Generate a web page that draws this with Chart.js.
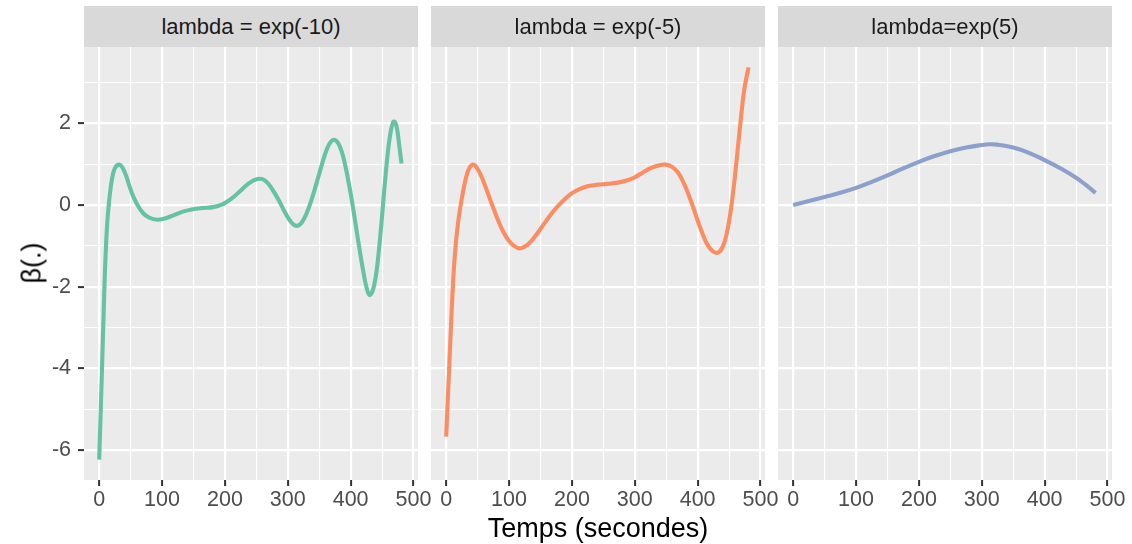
<!DOCTYPE html>
<html>
<head>
<meta charset="utf-8">
<script src="https://cdn.jsdelivr.net/npm/chart.js@4"></script>
<style>
html,body{margin:0;padding:0;background:#ffffff;}
body{width:1132px;height:544px;position:relative;overflow:hidden;font-family:"Liberation Sans",Arial,sans-serif;}
canvas{position:absolute;left:0;top:0;}
.strip{position:absolute;top:6px;height:41px;width:334px;background:#D9D9D9;color:#1A1A1A;font-size:22px;display:flex;align-items:center;justify-content:center;white-space:nowrap;}
#xtitle{position:absolute;left:84px;width:1028px;top:515px;line-height:27px;font-size:27px;color:#000;text-align:center;white-space:nowrap;}
#ytitle{position:absolute;left:32px;top:263px;font-size:27px;line-height:27px;color:#000;white-space:nowrap;transform:translate(-50%,-50%) rotate(-90deg);}
</style>
</head>
<body>
<canvas id="c0" width="1132" height="544"></canvas>
<canvas id="c1" width="1132" height="544"></canvas>
<canvas id="c2" width="1132" height="544"></canvas>
<div class="strip" id="s0"></div>
<div class="strip" id="s1"></div>
<div class="strip" id="s2"></div>
<div id="xtitle"></div>
<div id="ytitle"></div>
<script>
// ---------- data ----------
const panelTitles = ['lambda = exp(-10)', 'lambda = exp(-5)', 'lambda=exp(5)'];
const xAxisTitle = 'Temps (secondes)';
const yAxisTitle = 'β(.)';

const t1 = [0, 2, 4.5, 7, 9, 11, 13, 15.5, 18.5, 22, 26, 32, 37, 43, 48, 54, 61, 70, 80, 92, 104, 118, 133, 149, 165, 181, 196, 210, 224, 238, 252, 264, 276, 287, 297, 306, 314, 322, 330, 338, 346, 354, 361, 368, 374, 380, 386, 391, 396, 401, 405, 409, 413, 417, 421, 425, 430, 435, 440, 444, 448, 452, 456, 460, 464, 468, 471, 474, 477, 479, 481];
const beta1 = [-6.23, -5.25, -4.0, -2.7, -1.7, -0.95, -0.4, 0.05, 0.45, 0.76, 0.93, 0.99, 0.92, 0.71, 0.47, 0.22, 0.0, -0.2, -0.31, -0.36, -0.33, -0.25, -0.16, -0.1, -0.07, -0.05, 0.02, 0.15, 0.34, 0.53, 0.64, 0.6, 0.37, 0.08, -0.22, -0.43, -0.51, -0.43, -0.2, 0.14, 0.55, 0.98, 1.32, 1.54, 1.6, 1.52, 1.3, 1.0, 0.62, 0.2, -0.18, -0.58, -0.97, -1.35, -1.7, -2.0, -2.2, -2.1, -1.75, -1.25, -0.62, 0.1, 0.8, 1.4, 1.82, 2.04, 2.02, 1.85, 1.5, 1.25, 1.02];

const t2 = [0, 3, 6, 9, 12, 15, 18, 21, 24, 28, 32, 36, 40, 44, 48, 54, 60, 67, 75, 83, 91, 99, 108, 117, 126, 136, 146, 157, 168, 178, 189, 199, 212, 225, 240, 257, 273, 287, 300, 313, 326, 338, 350, 360, 369, 377, 385, 393, 401, 409, 416, 424, 431, 436, 441, 445, 449, 453, 457, 461, 465, 469, 473, 477, 481];
const beta2 = [-5.67, -4.6, -3.55, -2.5, -1.62, -1.0, -0.55, -0.2, 0.08, 0.42, 0.7, 0.88, 0.97, 0.99, 0.93, 0.77, 0.55, 0.26, -0.07, -0.39, -0.66, -0.86, -1.0, -1.06, -1.01, -0.87, -0.67, -0.43, -0.2, -0.02, 0.15, 0.28, 0.39, 0.46, 0.5, 0.52, 0.55, 0.6, 0.68, 0.8, 0.91, 0.97, 0.99, 0.93, 0.79, 0.57, 0.28, -0.06, -0.42, -0.75, -0.98, -1.13, -1.17, -1.12, -0.98, -0.78, -0.48, -0.1, 0.38, 0.95, 1.55, 2.15, 2.7, 3.08, 3.37];

const t3 = [0, 25, 50, 75, 100, 125, 150, 175, 200, 225, 250, 275, 300, 311, 325, 350, 375, 400, 425, 450, 465, 481];
const beta3 = [0, 0.1, 0.2, 0.3, 0.42, 0.57, 0.73, 0.9, 1.06, 1.2, 1.32, 1.41, 1.47, 1.49, 1.48, 1.41, 1.28, 1.1, 0.9, 0.67, 0.5, 0.3];

const xLabelTicks = [0, 100, 200, 300, 400, 500];
const xMinorTicks = [50, 150, 250, 350, 450];
const yLabelTicks = [-6, -4, -2, 0, 2];
const yMinorTicks = [-5, -3, -1, 1, 3];
const xLimits = [-24.15, 507.15];
const yLimits = [-6.73, 3.87];

// ---------- styling / layout ----------
const lineColors = ['#66C2A5', '#FC8D62', '#8DA0CB'];
const panelBox = [{left: 84, right: 418}, {left: 431, right: 765}, {left: 778, right: 1112}];
const W = 1132, TOP = 47, XAXIS_H = 64, YAXIS_W = 84;
const FONT = '"Liberation Sans", Arial, sans-serif';

const series = [[t1, beta1], [t2, beta2], [t3, beta3]];
const xAll = xLabelTicks.concat(xMinorTicks).sort((a, b) => a - b);
const yAll = yLabelTicks.concat(yMinorTicks).sort((a, b) => a - b);

const bgPlugin = {
  id: 'panelBg',
  beforeDraw(chart) {
    const a = chart.chartArea, ctx = chart.ctx;
    ctx.save();
    ctx.fillStyle = '#EBEBEB';
    ctx.fillRect(a.left, a.top, a.right - a.left, a.bottom - a.top);
    ctx.restore();
  }
};

function isMaj(list, c) { return c && c.tick && list.includes(c.tick.value); }

function makeChart(i) {
  const [tx, ty] = series[i];
  const pts = tx.map((x, k) => ({x: x, y: ty[k]}));
  const box = panelBox[i];
  const first = i === 0;
  return new Chart(document.getElementById('c' + i), {
    type: 'line',
    data: {datasets: [{
      data: pts,
      borderColor: lineColors[i],
      borderWidth: 4.1,
      pointRadius: 0,
      fill: false,
      tension: 0.4,
      borderCapStyle: 'butt',
      borderJoinStyle: 'round'
    }]},
    options: {
      responsive: false,
      animation: false,
      events: [],
      layout: {padding: {left: first ? box.left - YAXIS_W : box.left, right: W - box.right, top: TOP, bottom: 0}},
      plugins: {legend: {display: false}, tooltip: {enabled: false}},
      scales: {
        x: {
          type: 'linear', min: xLimits[0], max: xLimits[1],
          afterBuildTicks: s => { s.ticks = xAll.map(v => ({value: v})); },
          afterFit: s => { s.height = XAXIS_H; },
          border: {display: false},
          grid: {
            color: '#FFFFFF',
            lineWidth: c => isMaj(xLabelTicks, c) ? 2.2 : 1.1,
            tickLength: 6,
            tickWidth: 2,
            tickColor: c => isMaj(xLabelTicks, c) ? '#333333' : 'rgba(0,0,0,0)'
          },
          ticks: {
            autoSkip: false, maxRotation: 0, minRotation: 0, padding: 1,
            color: '#4D4D4D', font: {family: FONT, size: 21.5},
            callback: v => xLabelTicks.includes(v) ? String(v) : ''
          }
        },
        y: {
          type: 'linear', min: yLimits[0], max: yLimits[1],
          afterBuildTicks: s => { s.ticks = yAll.map(v => ({value: v})); },
          afterFit: s => { s.width = first ? YAXIS_W : 0; },
          border: {display: false},
          grid: {
            color: '#FFFFFF',
            lineWidth: c => isMaj(yLabelTicks, c) ? 2.2 : 1.1,
            drawTicks: first,
            tickLength: 6,
            tickWidth: 2,
            tickColor: c => isMaj(yLabelTicks, c) ? '#333333' : 'rgba(0,0,0,0)'
          },
          ticks: {
            display: first,
            autoSkip: false, padding: 7,
            color: '#4D4D4D', font: {family: FONT, size: 21.5},
            callback: v => yLabelTicks.includes(v) ? String(v) : ''
          }
        }
      }
    },
    plugins: [bgPlugin]
  });
}

for (let i = 0; i < 3; i++) {
  makeChart(i);
  const s = document.getElementById('s' + i);
  s.textContent = panelTitles[i];
  s.style.left = panelBox[i].left + 'px';
  s.style.width = (panelBox[i].right - panelBox[i].left) + 'px';
}
document.getElementById('xtitle').textContent = xAxisTitle;
document.getElementById('ytitle').textContent = yAxisTitle;
</script>
</body>
</html>
